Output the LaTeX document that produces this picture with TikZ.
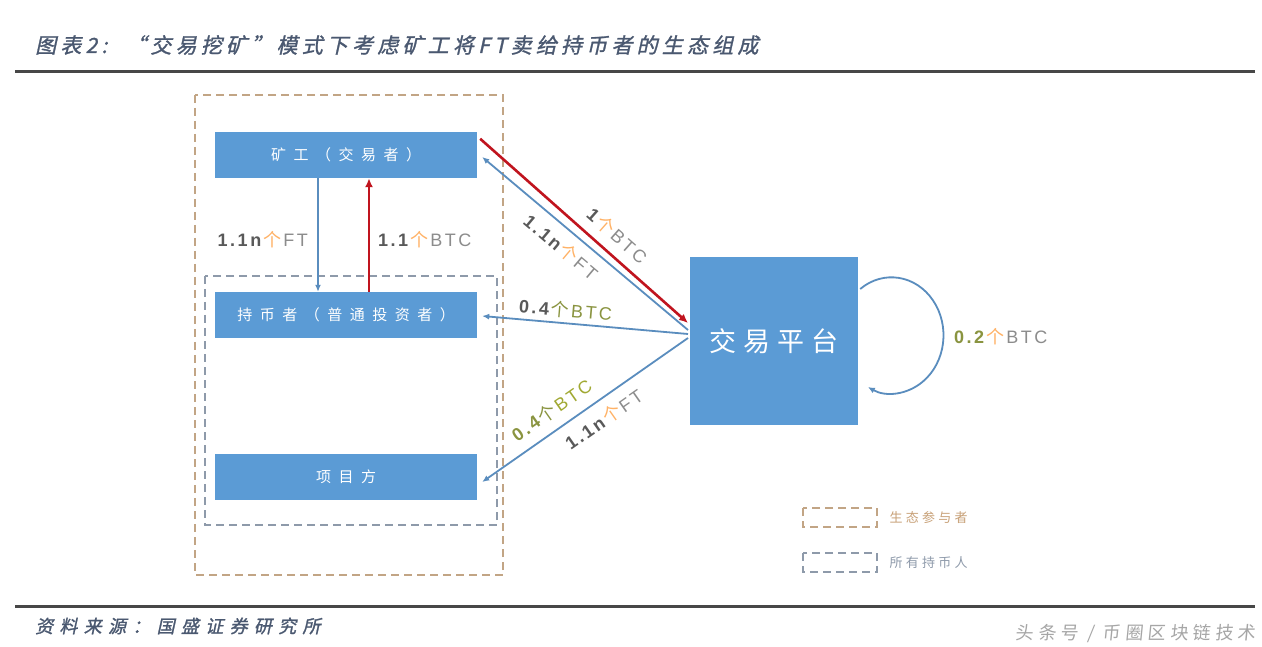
\documentclass[tikz,border=0pt]{standalone}
\usepackage{fontspec}
\setmainfont{Liberation Sans}
\newfontfamily\lblfont[LetterSpace=14]{Liberation Sans}
\newfontfamily\cjk{Noto Sans CJK SC}
\newfontfamily\cjklg[LetterSpace=25]{Noto Sans CJK SC}
\newfontfamily\cjkbox[LetterSpace=50]{Noto Sans CJK SC}
\newfontfamily\cjkplat[LetterSpace=25]{Noto Sans CJK SC}
\newfontfamily\cjkit[FakeSlant=0.22,FakeBold=1.2,LetterSpace=20]{Noto Sans CJK SC}
\newfontfamily\cjksrc[FakeSlant=0.22,FakeBold=1.2,LetterSpace=35]{Noto Sans CJK SC}
\newfontfamily\cjkwm[FakeSlant=0.1,LetterSpace=25]{Noto Sans CJK SC}
\usetikzlibrary{arrows.meta,calc}
\definecolor{boxblue}{HTML}{5B9BD5}
\definecolor{arrblue}{HTML}{5A8DBE}
\definecolor{arrred}{HTML}{C0141E}
\definecolor{numgray}{HTML}{595959}
\definecolor{unitgray}{HTML}{8C8C8C}
\definecolor{olive}{HTML}{8A9440}
\definecolor{gecol}{HTML}{C2A585}
\definecolor{hdcol}{HTML}{8E9AAA}
\definecolor{titlecol}{HTML}{4A5870}
\newcommand{\flowlbl}[3]{{\bfseries\color{#1}#2}\hspace{2pt}{\color{#3}\cjk 个}\hspace{2pt}{\color{unitgray}}}
\begin{document}
\begin{tikzpicture}[x=1pt,y=-1pt,
  actor/.style={draw=none,fill=boxblue,minimum width=262pt,minimum height=46pt,inner sep=0pt,text=white,font=\fontsize{15}{17}\cjkbox},
  flowb/.style={draw=arrblue,line width=1.8pt,-{Latex[length=7pt,width=6pt]}},
  flowr/.style={draw=arrred,line width=2.6pt,-{Latex[length=9pt,width=8pt]}},
  lbl/.style={font=\fontsize{18}{20}\lblfont,text=unitgray,inner sep=4pt},
  dbox/.style={dash pattern=on 8pt off 5pt,line width=2pt},
  rule/.style={draw=numgray!80!black,line width=3pt}]
\useasboundingbox (0,0) rectangle (1262,647);
\fill[white] (0,0) rectangle (1262,647);
% title and rules
\node[anchor=west,text=titlecol,font=\fontsize{21}{23}\cjkit,inner sep=0pt] (title) at (35,45) {图表2:\hspace{18pt}“交易挖矿”模式下考虑矿工将FT卖给持币者的生态组成};
\coordinate (r1a) at (15,72); \coordinate (r1b) at (1255,72);
\draw[rule] (r1a) -- (r1b);
\coordinate (r2a) at (15,606); \coordinate (r2b) at (1255,606);
\draw[rule] (r2a) -- (r2b);
\node[anchor=west,text=titlecol,font=\fontsize{18}{20}\cjksrc,inner sep=0pt] (src) at (35,626) {资料来源：国盛证券研究所};
\node[anchor=east,text=black!35,font=\fontsize{18}{20}\cjkwm,inner sep=0pt] (wm) at (1256,634) {头条号 / 币圈区块链技术};
% dashed groups
\draw[dbox,draw=gecol] (195,95) rectangle (503,575);
\draw[dbox,draw=hdcol] (205,276) rectangle (497,525);
% nodes
\node[actor] (miner) at (346,155) {矿工（交易者）};
\node[actor] (holder) at (346,315) {持币者（普通投资者）};
\node[actor] (proj) at (346,477) {项目方};
\node[fill=boxblue,minimum width=168pt,minimum height=167pt,inner sep=0pt,text=white,font=\fontsize{27}{30}\cjkplat] (plat) at (774,341) {交易平台};
% vertical flows
\draw[flowb] ($(miner.south)+(-28,0)$) -- ($(holder.north)+(-28,0)$);
\draw[flowr] ($(holder.north)+(23,0)$) -- ($(miner.south)+(23,0)$);
\node[lbl,anchor=east] (l1) at (312,240) {\flowlbl{numgray}{1.1n}{orange!60}FT};
\node[lbl,anchor=west] (l2) at (374,240) {\flowlbl{numgray}{1.1}{orange!60}BTC};
% diagonal flows
\coordinate (hubA) at (688,323);
\coordinate (hubB) at (688,330);
\coordinate (hubC) at (688,334);
\coordinate (hubD) at (688,338);
\draw[flowr] ($(miner.north east)+(3,7)$) -- node[lbl,sloped,above=5pt,pos=0.6] (l3) {\flowlbl{numgray}{1}{orange!60}BTC} (hubA);
\draw[flowb] (hubB) -- node[lbl,sloped,below=5pt,pos=0.56] (l4) {\flowlbl{numgray}{1.1n}{orange!60}FT} ($(miner.east)+(5,2)$);
\draw[flowb] (hubC) -- node[lbl,sloped,above,pos=0.6] (l5) {\flowlbl{numgray}{0.4}{olive}{\color{olive}BTC}} ($(holder.east)+(5,1)$);
\draw[flowb] (hubD) -- node[lbl,sloped,above=6pt,pos=0.61] (l6) {\flowlbl{olive}{0.4}{olive}{\color{olive!80!yellow}BTC}} ($(proj.east)+(5,5)$);
\path (hubD) -- node[lbl,sloped,below=6pt,pos=0.46] (l7) {\flowlbl{numgray}{1.1n}{orange!60}FT} ($(proj.east)+(5,5)$);
% loop
\draw[flowb] ($(plat.east)+(2,-52)$) arc[start angle=-127,end angle=117,x radius=52,y radius=58];
\node[lbl,anchor=west] (l8) at (950,337) {\flowlbl{olive}{0.2}{orange!60}BTC};
% legend
\draw[dbox,draw=gecol] (803,508) rectangle (877,527);
\node[anchor=west,text=gecol!90!orange,font=\fontsize{13}{15}\cjklg] (lg1) at (886,518) {生态参与者};
\draw[dbox,draw=hdcol] (803,553) rectangle (877,572);
\node[anchor=west,text=hdcol,font=\fontsize{13}{15}\cjklg] (lg2) at (886,563) {所有持币人};
\end{tikzpicture}
\end{document}
